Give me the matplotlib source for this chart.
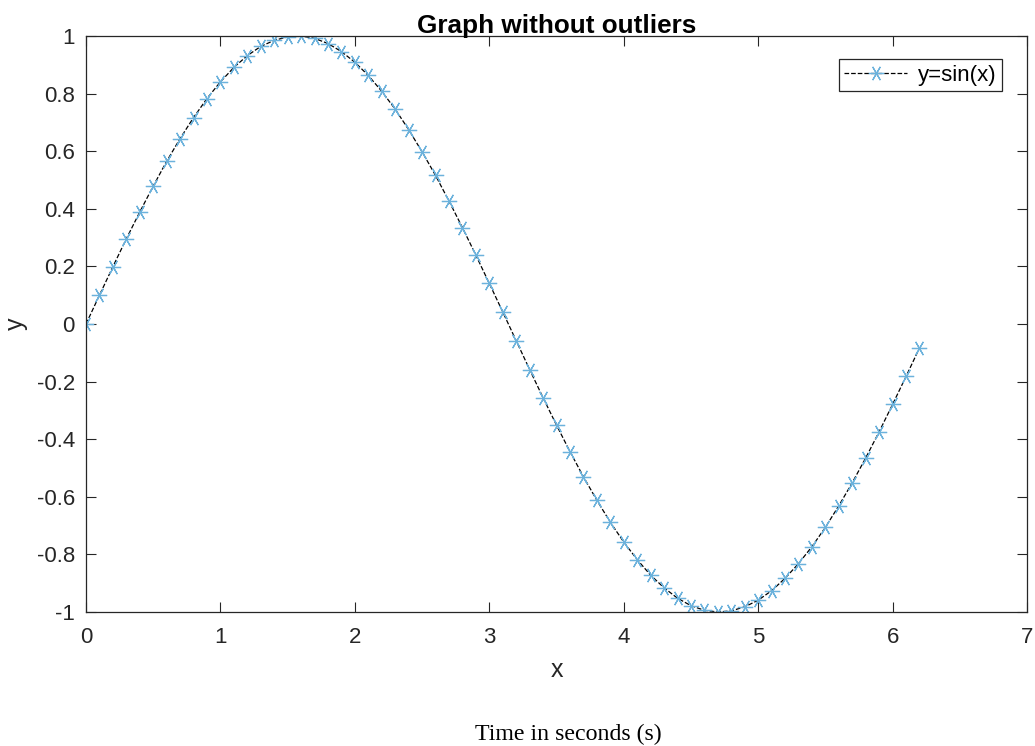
import matplotlib.pyplot as plt

x_vals = [0.0, 0.1, 0.2, 0.3, 0.4, 0.5, 0.6, 0.7, 0.8, 0.9,
          1.0, 1.1, 1.2, 1.3, 1.4, 1.5, 1.6, 1.7, 1.8, 1.9,
          2.0, 2.1, 2.2, 2.3, 2.4, 2.5, 2.6, 2.7, 2.8, 2.9,
          3.0, 3.1, 3.2, 3.3, 3.4, 3.5, 3.6, 3.7, 3.8, 3.9,
          4.0, 4.1, 4.2, 4.3, 4.4, 4.5, 4.6, 4.7, 4.8, 4.9,
          5.0, 5.1, 5.2, 5.3, 5.4, 5.5, 5.6, 5.7, 5.8, 5.9,
          6.0, 6.1, 6.2]
y_vals = [0.000, 0.100, 0.199, 0.296, 0.389, 0.479, 0.565, 0.644, 0.717, 0.783,
          0.841, 0.891, 0.932, 0.964, 0.985, 0.997, 1.000, 0.992, 0.974, 0.946,
          0.909, 0.863, 0.808, 0.746, 0.675, 0.598, 0.516, 0.427, 0.335, 0.239,
          0.141, 0.042, -0.058, -0.158, -0.256, -0.351, -0.443, -0.530, -0.612, -0.688,
          -0.757, -0.818, -0.872, -0.916, -0.952, -0.978, -0.994, -1.000, -0.996, -0.982,
          -0.959, -0.926, -0.883, -0.832, -0.773, -0.706, -0.631, -0.551, -0.465, -0.374,
          -0.279, -0.182, -0.083]
x_ticks = [0, 1, 2, 3, 4, 5, 6, 7]
y_ticks = [-1, -0.8, -0.6, -0.4, -0.2, 0, 0.2, 0.4, 0.6, 0.8, 1]

plt.rcParams['font.family'] = ['Liberation Sans', 'DejaVu Sans']
axis_col = '#262626'

fig = plt.figure(figsize=(10.35, 7.46), dpi=100)
ax = fig.add_axes([0.0831, 0.1796, 0.9092, 0.7721])

# dashed black line with light-blue asterisks, like MATLAB's '--*'
ax.plot(x_vals, y_vals, linestyle='--', color='black', linewidth=0.9,
        marker=(6, 2, 90), markersize=11, markeredgecolor='#6cb2dc',
        markeredgewidth=0.9, label='y=sin(x)')

ax.set_xlim(0, 7)
ax.set_ylim(-1, 1)
ax.set_xticks(x_ticks)
ax.set_yticks(y_ticks)
ax.set_xticklabels([str(t) for t in x_ticks])
ax.set_yticklabels(['%g' % t for t in y_ticks])

ax.tick_params(direction='in', top=True, right=True, length=7, width=0.8,
               colors=axis_col, labelsize=16)
ax.tick_params(axis='x', pad=11)
ax.tick_params(axis='y', pad=8)
for s in ax.spines.values():
    s.set_color(axis_col)
    s.set_linewidth(0.9)

ax.set_title('Graph without outliers', fontsize=18.8, fontweight='bold', pad=2)
ax.set_xlabel('x', fontsize=18, color=axis_col, labelpad=7)
ax.set_ylabel('y', fontsize=18, color=axis_col)
ax.yaxis.set_label_coords(-0.062, 0.5)

leg = ax.legend(loc='upper right', fontsize=16,
                fancybox=False, framealpha=1, edgecolor=axis_col,
                borderpad=0.25, borderaxespad=0, handlelength=2.8,
                handletextpad=0.5, bbox_to_anchor=(0.9734, 0.9601))
leg.get_frame().set_linewidth(0.9)

fig.text(0.5493, 0.008, 'Time in seconds (s)', fontsize=17.2,
         family=['Liberation Serif', 'DejaVu Serif'], ha='center',
         va='baseline', color='black')

fig.savefig('out.png', dpi=100)
